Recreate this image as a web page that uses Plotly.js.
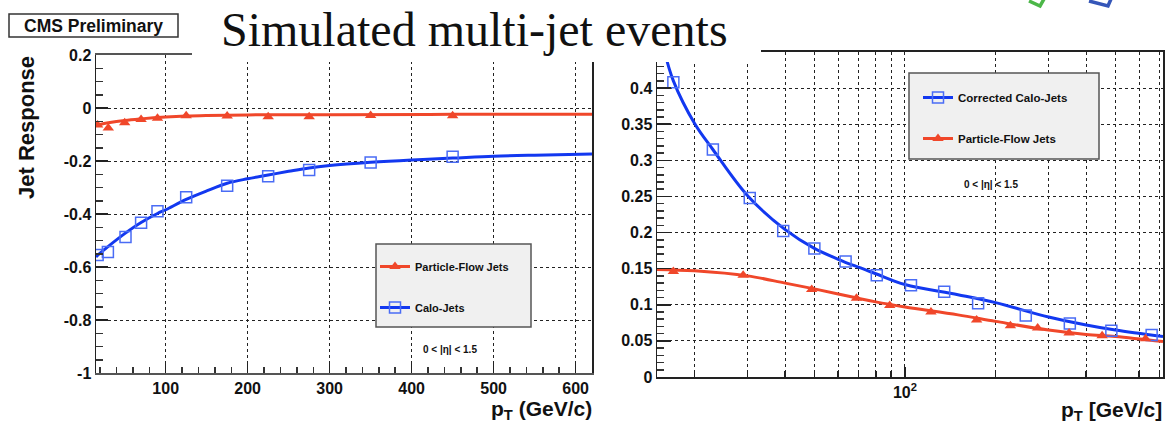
<!DOCTYPE html>
<html><head><meta charset="utf-8">
<script src="https://cdn.plot.ly/plotly-3.0.1.min.js"></script>
<style>html,body{margin:0;padding:0;background:#fff;}#chart{width:1165px;height:429px;}</style>
</head><body><div id="chart"></div>
<script>
// ---------- Left panel: jet response vs pT ----------
const leftPfPt   = [17, 30, 50, 70, 90, 125, 175, 225, 275, 350, 450];
const leftPfResp = [-0.064, -0.075, -0.056, -0.043, -0.039, -0.029, -0.030, -0.033, -0.033, -0.028, -0.029];
const leftCaloPt   = [17, 29.5, 51, 70, 90, 125, 175, 225, 275, 350, 450];
const leftCaloResp = [-0.555, -0.543, -0.487, -0.433, -0.390, -0.337, -0.293, -0.258, -0.234, -0.206, -0.184];
const leftPfFitPt   = [15, 20, 30, 50, 70, 100, 125, 150, 200, 300, 450, 620];
const leftPfFitResp = [-0.066, -0.062, -0.056, -0.047, -0.041, -0.034, -0.030, -0.028, -0.026, -0.025, -0.024, -0.024];
const leftCaloFitPt   = [15, 20, 30, 50, 70, 90, 100, 125, 150, 175, 200, 225, 250, 275, 300, 350, 400, 450, 500, 550, 620];
const leftCaloFitResp = [-0.562, -0.548, -0.522, -0.474, -0.432, -0.398, -0.384, -0.345, -0.313, -0.284, -0.267, -0.253, -0.239, -0.226, -0.217, -0.205, -0.196, -0.189, -0.182, -0.178, -0.174];
const leftYTicks = [0.2, 0, -0.2, -0.4, -0.6, -0.8, -1];
const leftYTickText = ["0.2", "0", "-0.2", "-0.4", "-0.6", "-0.8", "-1"];

// ---------- Right panel: resolution vs pT (log x) ----------
const rightCaloPt  = [17, 23, 30.5, 39.4, 50, 63.5, 80.6, 104.7, 135, 175, 252, 353, 485, 660];
const rightCaloRes = [0.408, 0.315, 0.248, 0.202, 0.178, 0.160, 0.141, 0.127, 0.118, 0.102, 0.085, 0.074, 0.064, 0.058];
const rightPfPt  = [17, 29, 49, 69, 89, 122, 173, 224, 276, 351, 452, 630];
const rightPfRes = [0.146, 0.141, 0.121, 0.109, 0.099, 0.090, 0.079, 0.071, 0.068, 0.061, 0.057, 0.053];
const rightCaloFitPt  = [15.9, 17, 20, 23, 30, 40, 50, 60, 70, 80, 100, 150, 200, 300, 400, 500, 720];
const rightCaloFitRes = [0.450, 0.410, 0.351, 0.315, 0.251, 0.204, 0.178, 0.163, 0.152, 0.143, 0.128, 0.114, 0.103, 0.083, 0.072, 0.065, 0.056];
const rightPfFitPt  = [15, 20, 30, 40, 50, 60, 70, 80, 100, 150, 200, 300, 400, 500, 720];
const rightPfFitRes = [0.149, 0.147, 0.140, 0.130, 0.122, 0.115, 0.109, 0.104, 0.097, 0.086, 0.077, 0.065, 0.059, 0.056, 0.049];
const rightMajorXTicks = [100];
const rightMajorXTickText = ["10<sup>2</sup>"];
const rightMinorXTicks = [20, 30, 40, 50, 60, 70, 80, 90, 200, 300, 400, 500, 600, 700];
const rightYTicks = [0, 0.05, 0.1, 0.15, 0.2, 0.25, 0.3, 0.35, 0.4];
const rightYTickText = ["0", "0.05", "0.1", "0.15", "0.2", "0.25", "0.3", "0.35", "0.4"];

const RED = '#f0472a', BLUE = '#1238f0', SQ = '#4a6cf5';
const W = 1165, H = 429;
const px = v => v / W, py = v => 1 - v / H;
const FONT = 'Liberation Sans, Arial, sans-serif';

const redMarker = {symbol: 'triangle-up', size: 10, color: RED};
const blueMarker = {symbol: 'square-open', size: 11, color: SQ, line: {width: 1.5, color: SQ}};

const traces = [
  {x: leftPfFitPt, y: leftPfFitResp, xaxis: 'x', yaxis: 'y', mode: 'lines', line: {color: RED, width: 3, shape: 'spline'}, showlegend: false},
  {x: leftCaloFitPt, y: leftCaloFitResp, xaxis: 'x', yaxis: 'y', mode: 'lines', line: {color: BLUE, width: 3, shape: 'spline'}, showlegend: false},
  {x: leftPfPt, y: leftPfResp, xaxis: 'x', yaxis: 'y', mode: 'markers', marker: redMarker, showlegend: false},
  {x: leftCaloPt, y: leftCaloResp, xaxis: 'x', yaxis: 'y', mode: 'markers', marker: blueMarker, showlegend: false},
  {x: rightCaloFitPt, y: rightCaloFitRes, xaxis: 'x2', yaxis: 'y2', mode: 'lines', line: {color: BLUE, width: 3, shape: 'spline'}, showlegend: false},
  {x: rightPfFitPt, y: rightPfFitRes, xaxis: 'x2', yaxis: 'y2', mode: 'lines', line: {color: RED, width: 3, shape: 'spline'}, showlegend: false},
  {x: rightCaloPt, y: rightCaloRes, xaxis: 'x2', yaxis: 'y2', mode: 'markers', marker: blueMarker, showlegend: false},
  {x: rightPfPt, y: rightPfRes, xaxis: 'x2', yaxis: 'y2', mode: 'markers', marker: redMarker, showlegend: false},
  // legend entries
  {x: [null], y: [null], xaxis: 'x', yaxis: 'y', name: 'Particle-Flow Jets', mode: 'lines+markers', line: {color: RED, width: 3}, marker: redMarker, legend: 'legend', legendgroup: 'a'},
  {x: [null], y: [null], xaxis: 'x', yaxis: 'y', name: 'Calo-Jets', mode: 'lines+markers', line: {color: BLUE, width: 3}, marker: blueMarker, legend: 'legend', legendgroup: 'b'},
  {x: [null], y: [null], xaxis: 'x2', yaxis: 'y2', name: 'Corrected Calo-Jets', mode: 'lines+markers', line: {color: BLUE, width: 3}, marker: blueMarker, legend: 'legend2', legendgroup: 'c'},
  {x: [null], y: [null], xaxis: 'x2', yaxis: 'y2', name: 'Particle-Flow Jets', mode: 'lines+markers', line: {color: RED, width: 3}, marker: redMarker, legend: 'legend2', legendgroup: 'd'},
  // carrier for the minor-grid overlay axis
  {x: [null], y: [null], xaxis: 'x3', yaxis: 'y2', mode: 'markers', showlegend: false}
];

const tickFont = {family: FONT, size: 16, color: '#111', weight: 'bold'};
const gridCommon = {showgrid: true, gridcolor: '#222', griddash: 'dot', gridwidth: 1, zeroline: false,
  showline: true, linecolor: '#222', linewidth: 1.5, mirror: true, ticks: 'inside', tickcolor: '#222', tickwidth: 1.5, tickfont: tickFont};

const layout = {
  width: W, height: H,
  margin: {l: 0, r: 0, t: 0, b: 0},
  paper_bgcolor: '#fff', plot_bgcolor: '#fff',
  xaxis: Object.assign({}, gridCommon, {domain: [px(96), px(592)], range: [15, 620], anchor: 'y',
    tickmode: 'linear', tick0: 0, dtick: 100, ticklen: 11, linecolor: '#555', linewidth: 2,
    minor: {dtick: 20, tick0: 0, ticks: 'inside', ticklen: 6, tickcolor: '#333', showgrid: false}}),
  yaxis: Object.assign({}, gridCommon, {domain: [py(373), py(55)], range: [-1, 0.2], anchor: 'x',
    tickmode: 'array', tickvals: leftYTicks, ticktext: leftYTickText, ticklen: 12,
    minor: {dtick: 0.05, tick0: 0, ticks: 'inside', ticklen: 7, tickcolor: '#333', showgrid: false}}),
  xaxis2: Object.assign({}, gridCommon, {domain: [px(657), px(1163)], type: 'log', range: [Math.log10(15), Math.log10(720)], anchor: 'y2',
    tickmode: 'array', tickvals: rightMajorXTicks, ticktext: rightMajorXTickText, ticklen: 10, linewidth: 2}),
  xaxis3: {domain: [px(657), px(1163)], type: 'log', range: [Math.log10(15), Math.log10(720)], anchor: 'y2', overlaying: 'x2',
    side: 'bottom', tickmode: 'array', tickvals: rightMinorXTicks, showticklabels: false, ticks: 'inside', ticklen: 6,
    tickcolor: '#222', tickwidth: 1.5, showgrid: true, gridcolor: '#222', griddash: 'dot', gridwidth: 1, zeroline: false, showline: false},
  yaxis2: Object.assign({}, gridCommon, {domain: [py(377), py(52)], range: [0, 0.45], anchor: 'x2',
    tickmode: 'array', tickvals: rightYTicks, ticktext: rightYTickText, ticklen: 14,
    minor: {dtick: 0.01, tick0: 0, ticks: 'inside', ticklen: 7, tickcolor: '#333', showgrid: false}}),
  legend: {x: px(375), y: py(252), xanchor: 'left', yanchor: 'top', bgcolor: 'rgba(0,0,0,0)', borderwidth: 0,
    font: {family: FONT, size: 11, color: '#111', weight: 'bold'}, tracegroupgap: 22, traceorder: 'grouped', itemwidth: 30},
  legend2: {x: px(918), y: py(83), xanchor: 'left', yanchor: 'top', bgcolor: 'rgba(0,0,0,0)', borderwidth: 0,
    font: {family: FONT, size: 11.5, color: '#111', weight: 'bold'}, tracegroupgap: 22, traceorder: 'grouped', itemwidth: 30},
  shapes: [
    {type: 'rect', xref: 'paper', yref: 'paper', x0: px(192), x1: px(761), y0: py(62), y1: 1, fillcolor: '#fff', line: {width: 0}, layer: 'above'},
    {type: 'rect', xref: 'paper', yref: 'paper', x0: px(9), x1: px(178), y0: py(37), y1: py(14), fillcolor: '#fff', line: {width: 1.5, color: '#333'}, layer: 'above'},
    {type: 'rect', xref: 'paper', yref: 'paper', x0: px(376), x1: px(531), y0: py(327), y1: py(244), fillcolor: '#f0f0f0', line: {width: 1.5, color: '#555'}, layer: 'above'},
    {type: 'rect', xref: 'paper', yref: 'paper', x0: px(909), x1: px(1099), y0: py(159), y1: py(73), fillcolor: '#f0f0f0', line: {width: 1.5, color: '#555'}, layer: 'above'},
    {type: 'path', xref: 'paper', yref: 'paper', path: `M ${px(1029)} ${py(1)} L ${px(1040)} ${py(6)} L ${px(1044)} ${py(-1)}`, line: {color: '#4cb748', width: 3.5}, layer: 'above'},
    {type: 'path', xref: 'paper', yref: 'paper', path: `M ${px(1089)} ${py(1)} L ${px(1108)} ${py(6)} L ${px(1111)} ${py(-1)}`, line: {color: '#3556b8', width: 3.5}, layer: 'above'}
  ],
  annotations: [
    {xref: 'paper', yref: 'paper', x: px(474), y: py(30), xanchor: 'center', yanchor: 'middle', showarrow: false,
      text: 'Simulated multi-jet events', font: {family: 'Liberation Serif, Times New Roman, serif', size: 48, color: '#111'}},
    {xref: 'paper', yref: 'paper', x: px(93), y: py(26), xanchor: 'center', yanchor: 'middle', showarrow: false,
      text: 'CMS Preliminary', font: {family: FONT, size: 17.5, color: '#111', weight: 'bold'}},
    {xref: 'paper', yref: 'paper', x: px(26), y: py(128), xanchor: 'center', yanchor: 'middle', showarrow: false, textangle: -90,
      text: 'Jet Response', font: {family: FONT, size: 22, color: '#111', weight: 'bold'}},
    {xref: 'paper', yref: 'paper', x: px(594), y: py(410), xanchor: 'right', yanchor: 'middle', showarrow: false,
      text: 'p<sub>T</sub> (GeV/c)', font: {family: FONT, size: 21, color: '#111', weight: 'bold'}},
    {xref: 'paper', yref: 'paper', x: px(1164), y: py(411), xanchor: 'right', yanchor: 'middle', showarrow: false,
      text: 'p<sub>T</sub> [GeV/c]', font: {family: FONT, size: 21, color: '#111', weight: 'bold'}},
    {xref: 'paper', yref: 'paper', x: px(450), y: py(349), xanchor: 'center', yanchor: 'middle', showarrow: false,
      text: '0 < |η| < 1.5', font: {family: FONT, size: 10, color: '#111', weight: 'bold'}},
    {xref: 'paper', yref: 'paper', x: px(991), y: py(185), xanchor: 'center', yanchor: 'middle', showarrow: false,
      text: '0 < |η| < 1.5', font: {family: FONT, size: 10, color: '#111', weight: 'bold'}}
  ]
};

Plotly.newPlot('chart', traces, layout, {staticPlot: true, displayModeBar: false});
</script>
</body></html>
